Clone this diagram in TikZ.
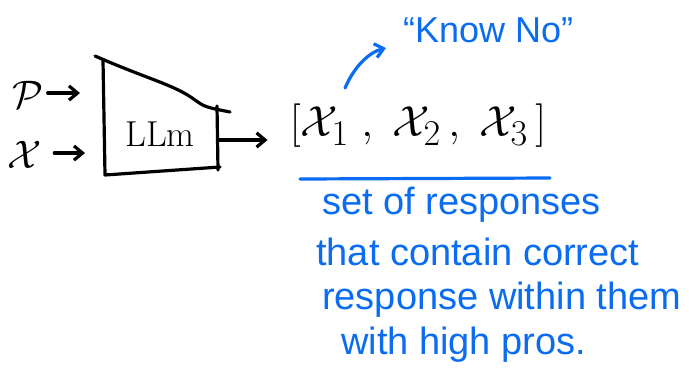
\documentclass[tikz,border=0pt]{standalone}
\usepackage{amsmath,amssymb}
\usepackage{fontspec}
\setsansfont{Liberation Sans}
\usepackage{tikz}
\usetikzlibrary{arrows.meta,positioning,calc}
\definecolor{Ink}{HTML}{000000}
\definecolor{Pen}{HTML}{0A6CF0}
\tikzset{
 stroke/.style={draw=Ink,line width=3.2pt,line cap=round,line join=round},
 arr/.style={stroke,-{Straight Barb[length=3mm,width=5mm]}},
 bluearr/.style={draw=Pen,line width=3.2pt,line cap=round,-{Straight Barb[length=3mm,width=5mm]}},
 sym/.style={font=\fontsize{24.88}{30}\selectfont,inner sep=0pt},
 note/.style={text=Pen,font=\sffamily\fontsize{38}{44}\selectfont,inner sep=0pt,anchor=west}
}
\begin{document}
\begin{tikzpicture}[x=1pt,y=-1pt]
\useasboundingbox (0,0) rectangle (689,376);
% inputs
\node[sym] (p) at (28,95) {\scalebox{1.6}{$\mathcal{P}$}};
\node[sym] (x) at (25,155) {\scalebox{1.6}{$\mathcal{X}$}};
\coordinate (pin) at (80,93);
\coordinate (xin) at (85,153);
\draw[arr] (p.east)++(4,-2) -- (pin);
\draw[arr] (x.east)++(12,-2) -- (xin);
% model block
\draw[stroke] (95,56) .. controls (150,80) and (175,85) .. (195,100) .. controls (205,107) .. (230,112);
\draw[stroke] (103,60) -- (105,175) -- (220,167);
\draw[stroke] (217,106) -- (218,170);
\node[sym] (llm) at (160,134) {\scalebox{1.45}{LLm}};
\coordinate (out) at (218,140);
% set of candidates
\node[sym] (set) at (418,126) {\scalebox{1.75}{$[\mathcal{X}_1\;,\;\mathcal{X}_2\,,\;\mathcal{X}_3\,]$}};
\draw[arr,shorten >=22pt] (out) -- (out -| set.west);
\coordinate (kn) at (386,48);
\draw[bluearr] (345,88) .. controls (355,65) and (370,52) .. (kn);
\node[note,font=\sffamily\fontsize{36}{40}\selectfont] (know) at (403,30) {``Know No''};
\draw[draw=Pen,line width=3.2pt,line cap=round] (300,179) -- (550,178);
% note below
\node[note] (l1) at (322,205) {set of responses};
\node[note] (l2) at (316,252) {that contain correct};
\node[note] (l3) at (322,300) {response within them};
\node[note] (l4) at (341,345) {with high pros.};
\end{tikzpicture}
\end{document}
